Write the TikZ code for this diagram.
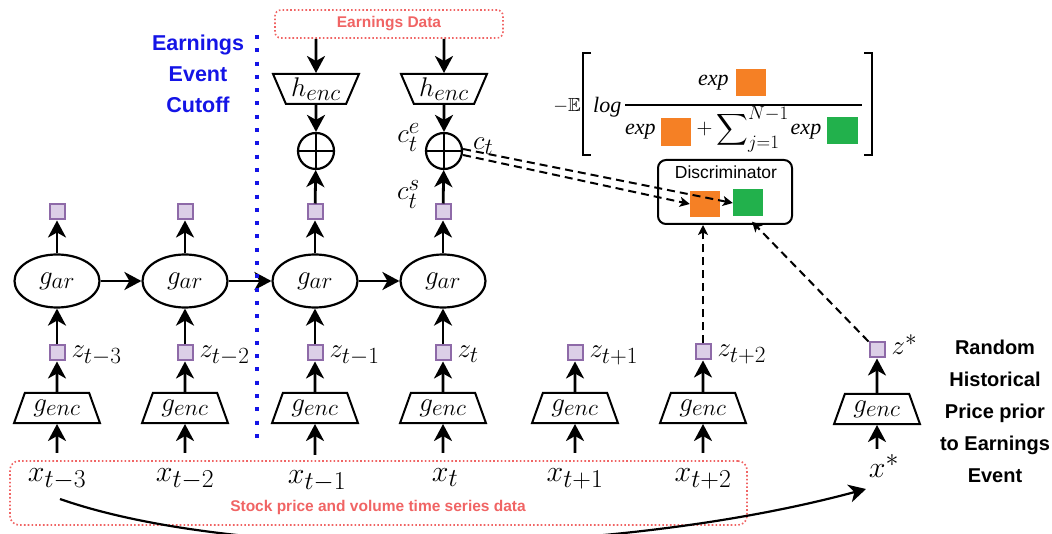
\documentclass[tikz,border=0pt]{standalone}
\usepackage{fontspec}
\usepackage{amssymb}
\usetikzlibrary{arrows.meta,positioning,calc,shapes.geometric}
\newfontfamily\arialf{Liberation Sans}
\newfontfamily\timesf{Liberation Serif}
% scalable Computer Modern math fonts
\DeclareFontShape{OML}{cmm}{m}{it}{<-6>cmmi5<6-7>cmmi6<7-8>cmmi7<8-9>cmmi8<9-10>cmmi9<10-12>cmmi10<12->cmmi12}{}
\DeclareFontShape{OMS}{cmsy}{m}{n}{<-6>cmsy5<6-7>cmsy6<7-8>cmsy7<8-9>cmsy8<9-10>cmsy9<10->cmsy10}{}
\DeclareFontShape{OMX}{cmex}{m}{n}{<->cmex10}{}
\DeclareFontShape{OT1}{cmr}{m}{n}{<-6>cmr5<6-7>cmr6<7-8>cmr7<8-9>cmr8<9-10>cmr9<10-12>cmr10<12-17>cmr12<17->cmr17}{}
\renewcommand{\defaultscriptratio}{.86}
\renewcommand{\defaultscriptscriptratio}{.65}
\definecolor{zfill}{HTML}{DCCFE7}
\definecolor{zedge}{HTML}{8E6AA8}
\definecolor{dorange}{HTML}{F58025}
\definecolor{dgreen}{HTML}{22B14C}
\definecolor{dred}{HTML}{F06464}
\definecolor{cutblue}{HTML}{1414E6}
\tikzset{
  arr/.style      = {-{Stealth[length=17pt,width=18pt,inset=5pt]}, line width=2.8pt},
  darr/.style     = {-{Stealth[length=10pt,width=10pt,inset=2.5pt]}, line width=2pt,
                     dash pattern=on 8pt off 5pt},
  encbox/.style   = {draw, line width=2pt, trapezium, trapezium stretches=true,
                     trapezium left angle=65, trapezium right angle=65,
                     minimum width=86pt, minimum height=30pt, inner sep=0pt},
  hencbox/.style  = {encbox, shape border rotate=180},
  arbox/.style    = {draw, line width=2.2pt, ellipse, minimum width=85pt,
                     minimum height=53pt, inner sep=0pt},
  latent/.style   = {draw=zedge, fill=zfill, line width=2pt, minimum size=15pt, inner sep=0pt},
  oplus/.style    = {draw, line width=2.2pt, circle, minimum size=36pt, inner sep=0pt},
  xlab/.style     = {anchor=base, font=\fontsize{30}{34}\selectfont, inner sep=0pt, text height=28pt},
  zlab/.style     = {anchor=base west, inner sep=0pt},
  databox/.style  = {draw=dred, line width=1.6pt, dash pattern=on 1.6pt off 2.2pt, rounded corners=6pt},
  datatext/.style = {text=dred, font=\arialf\bfseries\fontsize{15.5}{18}\selectfont},
  score/.style    = {minimum width=30pt, minimum height=26pt, inner sep=0pt},
  fracpart/.style = {anchor=base west, inner sep=0pt, font=\timesf\itshape\fontsize{22}{26}\selectfont},
}

\begin{document}
\begin{tikzpicture}[x=1pt,y=-1pt,font=\fontsize{27}{31}\selectfont]
\useasboundingbox (0,0) rectangle (1052,534);
% data boxes
\node[databox, datatext, minimum width=228pt, minimum height=28pt] (edata) at (389,24) {Earnings Data};
\node[databox, minimum width=737pt, minimum height=64pt, rounded corners=9pt] (xbox) at (378.5,493) {};
\node[datatext] (xboxlab) at (378,507) {Stock price and volume time series data};
% inputs
\node[xlab] (x1) at (57,481) {$x_{t-3}$};
\node[xlab] (x2) at (185,481) {$x_{t-2}$};
\node[xlab] (x3) at (317,483) {$x_{t-1}$};
\node[xlab] (x4) at (445,481) {$x_{t}$};
\node[xlab] (x5) at (575,481) {$x_{t+1}$};
\node[xlab] (x6) at (703,481) {$x_{t+2}$};
\node[xlab] (x7) at (884,477) {$x^{*}$};
% encoders
\node[encbox] (enc1) at (57,408) {$g_{enc}$};
\node[encbox] (enc2) at (185,408) {$g_{enc}$};
\node[encbox] (enc3) at (315,408) {$g_{enc}$};
\node[encbox] (enc4) at (443,408) {$g_{enc}$};
\node[encbox] (enc5) at (575,408) {$g_{enc}$};
\node[encbox] (enc6) at (703,408) {$g_{enc}$};
\node[encbox] (enc7) at (877,409) {$g_{enc}$};
% latents
\node[latent] (z1) at (57,353) {};
\node[latent] (z2) at (185,353) {};
\node[latent] (z3) at (315,353) {};
\node[latent] (z4) at (443,353) {};
\node[latent] (z5) at (575,353) {};
\node[latent] (z6) at (703,352) {};
\node[latent] (z7) at (877,350) {};
\node[zlab] (lz1) at ($(z1.east)+(6,5)$) {$z_{t-3}$};
\node[zlab] (lz2) at ($(z2.east)+(6,5)$) {$z_{t-2}$};
\node[zlab] (lz3) at ($(z3.east)+(6,5)$) {$z_{t-1}$};
\node[zlab] (lz4) at ($(z4.east)+(6,5)$) {$z_{t}$};
\node[zlab] (lz5) at ($(z5.east)+(6,5)$) {$z_{t+1}$};
\node[zlab] (lz6) at ($(z6.east)+(6,5)$) {$z_{t+2}$};
\node[zlab] (lz7) at ($(z7.east)+(6,5)$) {$z^{*}$};
% autoregressive part
\node[arbox] (e1) at (57,281) {$g_{ar}$};
\node[arbox] (e2) at (185,281) {$g_{ar}$};
\node[arbox] (e3) at (315,281) {$g_{ar}$};
\node[arbox] (e4) at (443,281) {$g_{ar}$};
\node[latent] (o1) at (57,212) {};
\node[latent] (o2) at (185,212) {};
\node[latent] (o3) at (315,212) {};
\node[latent] (o4) at (443,212) {};
% earnings branch
\node[hencbox] (h3) at (316,89) {$h_{enc}$};
\node[hencbox] (h4) at (444,89) {$h_{enc}$};
\node[oplus] (p3) at (316,151) {};
\node[oplus] (p4) at (444,151) {};
\draw[line width=2.2pt] (p3.north) -- (p3.south) (p3.west) -- (p3.east);
\draw[line width=2.2pt] (p4.north) -- (p4.south) (p4.west) -- (p4.east);
\node[anchor=base east, inner sep=0pt] (lce) at (420,143) {$c_t^e$};
\node[anchor=base east, inner sep=0pt] (lcs) at (420,200) {$c_t^s$};
\node[anchor=base west, inner sep=0pt] (lct) at (473,150) {$c_t$};
% discriminator
\node[draw, line width=2pt, rounded corners=8pt, minimum width=134pt, minimum height=64pt] (disc) at (725,192) {};
\node[font=\arialf\fontsize{17.5}{20}\selectfont] (disclab) at (726,172) {Discriminator};
\node[score, fill=dorange] (dpos) at (705,204) {};
\node[score, fill=dgreen, minimum height=27pt] (dneg) at (748,203) {};
% arrows
\draw[arr] (x1) -- (enc1); \draw[arr] (x2) -- (enc2); \draw[arr] (enc3.south |- x3.north) -- (enc3);
\draw[arr] (enc4.south |- x4.north) -- (enc4); \draw[arr] (x5) -- (enc5); \draw[arr] (x6) -- (enc6);
\draw[arr] (enc7.south |- x7.north) -- (enc7);
\draw[arr] (enc1) -- (z1); \draw[arr] (enc2) -- (z2); \draw[arr] (enc3) -- (z3);
\draw[arr] (enc4) -- (z4); \draw[arr] (enc5) -- (z5); \draw[arr] (enc6) -- (z6);
\draw[arr] (enc7) -- (z7);
\draw[arr] (z1) -- (e1); \draw[arr] (z2) -- (e2); \draw[arr] (z3) -- (e3); \draw[arr] (z4) -- (e4);
\draw[arr] (e1) -- (o1); \draw[arr] (e2) -- (o2); \draw[arr] (e3) -- (o3); \draw[arr] (e4) -- (o4);
\draw[arr] (e1) -- (e2); \draw[arr] (e2) -- (e3); \draw[arr] (e3) -- (e4);
\draw[arr] (o3) -- (p3); \draw[arr] (o4) -- (p4);
\draw[arr] (h3) -- (p3); \draw[arr] (h4) -- (p4);
\draw[arr] (edata.south -| h3) -- (h3); \draw[arr] (edata.south -| h4) -- (h4);
\draw[darr] ($(p4.east)+(0,-2)$) -- (dneg.west);
\draw[darr] ($(p4.east)+(0,4)$) -- (dpos.west);
\draw[darr] (z6.north) -- (z6.north |- disc.south);
\draw[darr] (z7.north west) -- ($(dneg.south)+(4,5)$);
\coordinate (cstart) at (60,499);
\coordinate (cend) at (866,489);
\draw[arr, line width=2.2pt] (cstart) .. controls (240,562) and (610,558) .. (cend);
% cutoff
\draw[cutblue, line width=4.5pt, dash pattern=on 4pt off 9.3pt] (257,35) -- (257,445);
\node[text=cutblue, align=center, font=\arialf\bfseries\fontsize{21.5}{31}\selectfont] (cutlab) at (198,74)
  {Earnings\\Event\\Cutoff};
\node[align=center, font=\arialf\bfseries\fontsize{20}{32}\selectfont] (randlab) at (995,411)
  {Random\\Historical\\Price prior\\to Earnings\\Event};
% contrastive loss
\node[anchor=base east, inner sep=0pt, font=\fontsize{19}{22}\selectfont] (negE) at (581,112) {$-\mathbb{E}$};
\draw[line width=1.3pt] (591,53) -- (583,53) -- (583,155) -- (591,155);
\draw[line width=1.3pt] (864,53) -- (872,53) -- (872,155) -- (864,155);
\node[fracpart] (logtxt) at (593,113) {log};
\draw[line width=1.3pt] (625,105) -- (862,105);
\node[fracpart] (numer) at (698,86) {exp\hspace{7pt}\textcolor{dorange}{\rule[-10pt]{30pt}{27pt}}};
\node[fracpart] (denom) at (625,135) {exp\hspace{5pt}\textcolor{dorange}{\rule[-11pt]{30pt}{28pt}}\hspace{6pt}%
  $+\displaystyle\sum\nolimits_{j=1}^{N-1}$\hspace{2pt}exp\hspace{6pt}\textcolor{dgreen}{\rule[-9pt]{31pt}{27pt}}};
\end{tikzpicture}
\end{document}
